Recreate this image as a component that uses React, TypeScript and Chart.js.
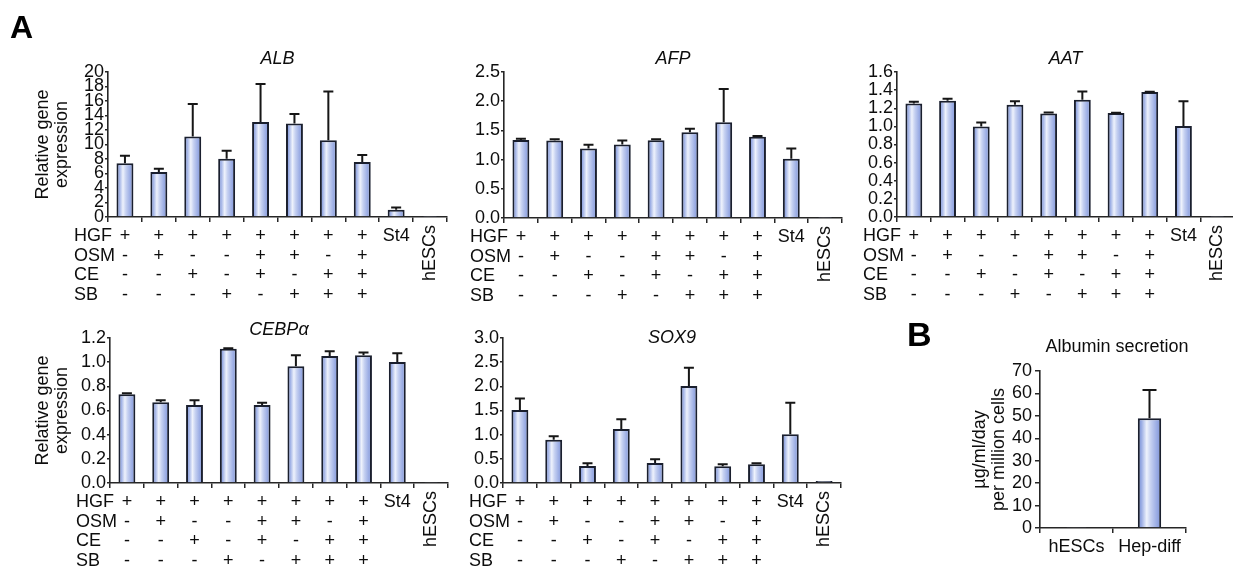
import React, { useEffect, useRef } from 'react';
import { Chart, registerables } from 'chart.js';

Chart.register(...registerables);

// ---------------- DATA ----------------
const CATEGORIES = ['HGF', 'HGF+OSM', 'HGF+CE', 'HGF+SB', 'HGF+OSM+CE', 'HGF+OSM+SB', 'HGF+CE+SB', 'HGF+OSM+CE+SB', 'St4', 'hESCs'];
const ROW_NAMES = ['HGF', 'OSM', 'CE', 'SB'];
const HGF_ROW = ['+', '+', '+', '+', '+', '+', '+', '+'];
const OSM_ROW = ['-', '+', '-', '-', '+', '+', '-', '+'];
const CE_ROW = ['-', '-', '+', '-', '+', '-', '+', '+'];
const SB_ROW = ['-', '-', '-', '+', '-', '+', '+', '+'];

const ALB_MEAN = [7.4, 6.2, 11.1, 8.05, 13.1, 12.9, 10.6, 7.6, 1.0, 0.02];
const ALB_ERR = [1.05, 0.45, 4.5, 1.1, 5.25, 1.3, 6.7, 0.95, 0.3, 0];
const AFP_MEAN = [1.335, 1.325, 1.19, 1.26, 1.33, 1.47, 1.64, 1.39, 1.015, 0.004];
const AFP_ERR = [0.02, 0.025, 0.065, 0.065, 0.02, 0.06, 0.57, 0.015, 0.175, 0];
const AAT_MEAN = [1.253, 1.283, 0.999, 1.239, 1.143, 1.294, 1.147, 1.379, 1.003, 0.004];
const AAT_ERR = [0.019, 0.022, 0.044, 0.037, 0.011, 0.092, 0.004, 0.004, 0.273, 0];
const CEBPA_MEAN = [0.734, 0.668, 0.646, 1.112, 0.646, 0.966, 1.051, 1.057, 1.001, 0.004];
const CEBPA_ERR = [0.008, 0.016, 0.038, 0.003, 0.019, 0.091, 0.039, 0.024, 0.072, 0];
const SOX9_MEAN = [1.51, 0.897, 0.352, 1.117, 0.414, 2.007, 0.345, 0.386, 1.007, 0.04];
const SOX9_ERR = [0.24, 0.069, 0.055, 0.2, 0.076, 0.379, 0.041, 0.021, 0.655, 0];

const B_CATEGORIES = ['hESCs', 'Hep-diff'];
const B_MEAN = [0.2, 48.9];
const B_ERR = [0, 12.6];

const GENE_TITLES = ['ALB', 'AFP', 'AAT', 'CEBPα', 'SOX9'];
const B_TITLE = 'Albumin secretion';
const Y_TITLE_A = ['Relative gene', 'expression'];
const Y_TITLE_B = ['µg/ml/day', 'per million cells'];

// axis ranges: [max, step, decimals]
const ALB_AXIS = [20, 2, 0];
const AFP_AXIS = [2.5, 0.5, 1];
const AAT_AXIS = [1.6, 0.2, 1];
const CEBPA_AXIS = [1.2, 0.2, 1];
const SOX9_AXIS = [3.0, 0.5, 1];
const B_AXIS = [70, 10, 0];

// ---------------- STYLE / LAYOUT ----------------
const FONT = '"Liberation Sans", Arial, Helvetica, sans-serif';
const AX = '#262626';
const TXT = '#0d0d0d';
const FS = 18;
const Y_LH = 1.06;
const LEFT_W = 110; // canvas space left of plot
const TOP_H = 40; // canvas space above plot
const BOT_H = 90; // canvas space below plot
const RIGHT_W = 10;
const ROW0 = 19.5;
const ROWSTEP = 19.5;

type Panel = {
  key: string;
  title: string;
  italic: boolean;
  labels: string[];
  values: number[];
  errors: number[];
  axis: number[];
  plot: { l: number; t: number; r: number; b: number };
  titleX?: number;
  titleY: number;
  yTitle?: string[];
  yTitleX?: number;
  rows: boolean;
  barPct: number;
  capW: number;
  yTick: number;
  yPad: number;
};

const PANELS: Panel[] = [
  { key: 'alb', title: GENE_TITLES[0], italic: true, labels: CATEGORIES, values: ALB_MEAN, errors: ALB_ERR, axis: ALB_AXIS,
    plot: { l: 108, t: 72, r: 447, b: 217 }, titleY: 59, yTitle: Y_TITLE_A, yTitleX: 43, rows: true, barPct: 0.5, capW: 10, yTick: 3, yPad: 1 },
  { key: 'afp', title: GENE_TITLES[1], italic: true, labels: CATEGORIES, values: AFP_MEAN, errors: AFP_ERR, axis: AFP_AXIS,
    plot: { l: 504, t: 72, r: 842, b: 218 }, titleY: 59, rows: true, barPct: 0.5, capW: 10, yTick: 3, yPad: 1 },
  { key: 'aat', title: GENE_TITLES[2], italic: true, labels: CATEGORIES, values: AAT_MEAN, errors: AAT_ERR, axis: AAT_AXIS,
    plot: { l: 897, t: 72, r: 1234, b: 217 }, titleY: 59, rows: true, barPct: 0.5, capW: 10, yTick: 3, yPad: 1 },
  { key: 'cebpa', title: GENE_TITLES[3], italic: true, labels: CATEGORIES, values: CEBPA_MEAN, errors: CEBPA_ERR, axis: CEBPA_AXIS,
    plot: { l: 110, t: 338, r: 448, b: 483 }, titleY: 330, yTitle: Y_TITLE_A, yTitleX: 43, rows: true, barPct: 0.5, capW: 10, yTick: 3, yPad: 1 },
  { key: 'sox9', title: GENE_TITLES[4], italic: true, labels: CATEGORIES, values: SOX9_MEAN, errors: SOX9_ERR, axis: SOX9_AXIS,
    plot: { l: 503, t: 338, r: 841, b: 483 }, titleY: 338, rows: true, barPct: 0.5, capW: 10, yTick: 3, yPad: 1 },
  { key: 'b', title: B_TITLE, italic: false, labels: B_CATEGORIES, values: B_MEAN, errors: B_ERR, axis: B_AXIS,
    plot: { l: 1040, t: 371, r: 1186, b: 528 }, titleX: 1117, titleY: 347, yTitle: Y_TITLE_B, yTitleX: 980, rows: false, barPct: 0.32, capW: 14, yTick: 5, yPad: 3 },
];

function canvasBox(p: Panel) {
  return {
    x: p.plot.l - LEFT_W,
    y: p.plot.t - TOP_H,
    w: p.plot.r - p.plot.l + LEFT_W + RIGHT_W,
    h: p.plot.b - p.plot.t + TOP_H + BOT_H,
  };
}

function gradientFill(barPct: number) {
  return (c: any) => {
    const chart = c.chart;
    const xs = chart.scales && chart.scales.x;
    if (!xs || c.type !== 'data') return '#a0b1e6';
    const n = chart.data.labels.length;
    const cx = xs.getPixelForValue(c.dataIndex);
    const half = ((xs.width / n) * barPct) / 2;
    if (!isFinite(cx) || !isFinite(half) || half <= 0) return '#a0b1e6';
    const g = chart.ctx.createLinearGradient(cx - half, 0, cx + half, 0);
    g.addColorStop(0, '#768cd2');
    g.addColorStop(0.15, '#97aae3');
    g.addColorStop(0.38, '#eef2fc');
    g.addColorStop(0.55, '#c6d1f1');
    g.addColorStop(0.82, '#98aae3');
    g.addColorStop(1, '#7e93d6');
    return g;
  };
}

function overlayPlugin(p: Panel) {
  const box = canvasBox(p);
  return {
    id: 'overlay_' + p.key,
    afterDatasetsDraw(chart: any) {
      const { ctx } = chart;
      const xs = chart.scales.x;
      const ys = chart.scales.y;
      ctx.save();
      ctx.strokeStyle = '#161616';
      ctx.lineWidth = 2;
      p.values.forEach((v, i) => {
        const e = p.errors[i];
        if (!e) return;
        const x = xs.getPixelForValue(i);
        const y0 = ys.getPixelForValue(v);
        const y1 = ys.getPixelForValue(v + e);
        ctx.beginPath();
        ctx.moveTo(x, y0);
        ctx.lineTo(x, y1);
        ctx.moveTo(x - p.capW / 2, y1);
        ctx.lineTo(x + p.capW / 2, y1);
        ctx.stroke();
      });
      ctx.restore();
    },
    afterDraw(chart: any) {
      const { ctx, chartArea } = chart;
      const xs = chart.scales.x;
      ctx.save();
      ctx.fillStyle = TXT;
      ctx.textAlign = 'center';
      ctx.textBaseline = 'middle';
      ctx.font = `${p.italic ? 'italic ' : ''}${FS}px ${FONT}`;
      const tx = (p.titleX !== undefined ? p.titleX : (p.plot.l + p.plot.r) / 2) - box.x;
      ctx.fillText(p.title, tx, p.titleY - box.y);
      if (p.rows) {
        ctx.font = `${FS}px ${FONT}`;
        const rows = [HGF_ROW, OSM_ROW, CE_ROW, SB_ROW];
        rows.forEach((row, r) => {
          const y = chartArea.bottom + ROW0 + r * ROWSTEP;
          ctx.textAlign = 'left';
          ctx.fillText(ROW_NAMES[r], chartArea.left - 34, y);
          ctx.textAlign = 'center';
          row.forEach((s, i) => ctx.fillText(s, xs.getPixelForValue(i), y));
        });
        ctx.textAlign = 'center';
        ctx.fillText(p.labels[8], xs.getPixelForValue(8), chartArea.bottom + ROW0);
        ctx.save();
        ctx.translate(xs.getPixelForValue(9), chartArea.bottom + 8);
        ctx.rotate(-Math.PI / 2);
        ctx.textAlign = 'right';
        ctx.fillText(p.labels[9], 0, 0);
        ctx.restore();
      }
      ctx.restore();
    },
  };
}

function makeConfig(p: Panel): any {
  const box = canvasBox(p);
  const [max, step, decimals] = p.axis;
  const lh = FS * Y_LH;
  const titlePad = p.yTitleX !== undefined ? p.yTitleX - box.x - lh / 2 : 0;
  return {
    type: 'bar',
    data: {
      labels: p.labels,
      datasets: [
        {
          data: p.values,
          backgroundColor: gradientFill(p.barPct),
          borderColor: '#1a1f2e',
          borderWidth: 2,
          barPercentage: p.barPct,
          categoryPercentage: 1,
        },
      ],
    },
    options: {
      responsive: false,
      animation: false,
      devicePixelRatio: 1,
      layout: { padding: { left: 0, right: RIGHT_W, top: TOP_H, bottom: 0 } },
      plugins: { legend: { display: false }, tooltip: { enabled: false }, title: { display: false } },
      scales: {
        x: {
          offset: true,
          grid: { display: true, drawOnChartArea: false, drawTicks: true, tickLength: 5, color: AX, lineWidth: 1.5, offset: true },
          border: { display: true, color: AX, width: 1.6 },
          ticks: {
            display: !p.rows,
            color: TXT,
            padding: 3,
            maxRotation: 0,
            autoSkip: false,
            font: { family: FONT, size: FS },
          },
          afterFit: (s: any) => {
            s.height = BOT_H;
          },
        },
        y: {
          min: 0,
          max: max,
          grid: { display: true, drawOnChartArea: false, drawTicks: true, tickLength: p.yTick, color: AX, lineWidth: 1.5 },
          border: { display: true, color: AX, width: 1.6 },
          ticks: {
            stepSize: step,
            autoSkip: false,
            padding: p.yPad,
            color: TXT,
            font: { family: FONT, size: FS },
            callback: (v: any) => Number(v).toFixed(decimals),
          },
          title: {
            display: !!p.yTitle,
            text: p.yTitle || '',
            color: TXT,
            font: { family: FONT, size: FS, lineHeight: Y_LH },
            padding: { top: titlePad, bottom: 0 },
          },
          afterFit: (s: any) => {
            s.width = LEFT_W;
          },
        },
      },
    },
    plugins: [overlayPlugin(p)],
  };
}

function PanelChart({ p }: { p: Panel }) {
  const ref = useRef<HTMLCanvasElement | null>(null);
  const box = canvasBox(p);
  useEffect(() => {
    if (!ref.current) return;
    const chart = new Chart(ref.current, makeConfig(p));
    return () => chart.destroy();
  }, [p]);
  return (
    <canvas
      ref={ref}
      width={box.w}
      height={box.h}
      style={{ position: 'absolute', left: box.x, top: box.y, width: box.w, height: box.h }}
    />
  );
}

export default function App() {
  return (
    <div
      style={{
        position: 'fixed',
        left: 0,
        top: 0,
        width: 1233,
        height: 568,
        background: '#ffffff',
        overflow: 'hidden',
        fontFamily: FONT,
      }}
    >
      {PANELS.map((p) => (
        <PanelChart key={p.key} p={p} />
      ))}
      <div style={{ position: 'absolute', left: 10, top: 11, fontSize: 32, fontWeight: 'bold', lineHeight: 1, color: '#000' }}>A</div>
      <div style={{ position: 'absolute', left: 907, top: 317, fontSize: 34, fontWeight: 'bold', lineHeight: 1, color: '#000' }}>B</div>
    </div>
  );
}
